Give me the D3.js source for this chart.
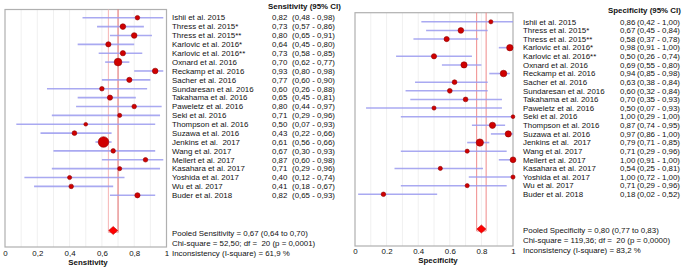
<!DOCTYPE html>
<html lang="en">
<head>
  <meta charset="UTF-8">
  <title>Forest plots</title>
  <script src="https://d3js.org/d3.v7.min.js"></script>
  <style>
  body { margin: 0; background: #fff; }
  text { font-family: "Liberation Sans", Arial, sans-serif; font-size: 7.9px; fill: #111; white-space: pre; }
  .hdr, .ttl { font-weight: bold; }
  .box { fill: none; stroke: #b0b0b0; stroke-width: 1.2px; }
  .grid { stroke: #f0f0f0; stroke-width: 1px; }
  .ci { stroke: #9a9aee; stroke-width: 1.6px; stroke-opacity: 0.85; }
  .dot { fill: #d00000; stroke: #900000; stroke-width: 0.6px; }
  .diamond { fill: #ff0000; stroke: #c00000; stroke-width: 0.6px; }
  .axis path, .axis line { display: none; }
  </style>
</head>
<body>
  <svg width="685" height="268"></svg>
  <script>
  var studies = ["Ishii et al. 2015", "Thress et al. 2015*", "Thress et al. 2015**", "Karlovic et al. 2016*",
    "Karlovic et al. 2016**", "Oxnard et al. 2016", "Reckamp et al. 2016", "Sacher et al. 2016",
    "Sundaresan et al. 2016", "Takahama et al. 2016", "Paweletz et al. 2016", "Seki et al. 2016",
    "Thompson et al. 2016", "Suzawa et al. 2016", "Jenkins et al.  2017", "Wang et al. 2017",
    "Mellert et al. 2017", "Kasahara et al. 2017", "Yoshida et al. 2017", "Wu et al. 2017", "Buder et al. 2018"];

  var sens   = [0.82, 0.73, 0.80, 0.64, 0.73, 0.70, 0.93, 0.77, 0.60, 0.65, 0.80, 0.71, 0.50, 0.43, 0.61, 0.67, 0.87, 0.71, 0.40, 0.41, 0.82];
  var sensLo = [0.48, 0.57, 0.65, 0.45, 0.58, 0.62, 0.80, 0.60, 0.26, 0.45, 0.44, 0.29, 0.07, 0.22, 0.56, 0.30, 0.60, 0.29, 0.12, 0.18, 0.65];
  var sensHi = [0.98, 0.86, 0.91, 0.80, 0.85, 0.77, 0.98, 0.90, 0.88, 0.81, 0.97, 0.96, 0.93, 0.66, 0.66, 0.93, 0.98, 0.96, 0.74, 0.67, 0.93];
  var sensWeight = [4.8, 7.3, 7.3, 6.3, 6.3, 13.7, 7.3, 6.3, 4.8, 6.3, 4.8, 4, 3.2, 5.3, 26, 4.8, 4.8, 4, 4, 4.8, 6.3];

  var spec   = [0.86, 0.67, 0.58, 0.98, 0.50, 0.69, 0.94, 0.63, 0.60, 0.70, 0.50, 1.00, 0.87, 0.97, 0.79, 0.71, 1.00, 0.54, 1.00, 0.71, 0.18];
  var specLo = [0.42, 0.45, 0.37, 0.91, 0.26, 0.55, 0.85, 0.38, 0.32, 0.35, 0.07, 0.29, 0.74, 0.86, 0.71, 0.29, 0.91, 0.25, 0.72, 0.29, 0.02];
  var specHi = [1.00, 0.84, 0.78, 1.00, 0.74, 0.80, 0.98, 0.84, 0.84, 0.93, 0.93, 1.00, 0.95, 1.00, 0.85, 0.96, 1.00, 0.81, 1.00, 0.96, 0.52];
  var specWeight = [4, 7.3, 6.3, 9.5, 6.3, 9, 10, 5.3, 5.3, 5.3, 4, 3.2, 9, 9, 12.5, 4, 7.8, 4, 4, 4, 4.8];

  var sensPooled = [0.67, 0.64, 0.70];
  var specPooled = [0.80, 0.77, 0.83];
  var sensStats = ["Pooled Sensitivity = 0,67 (0,64 to 0,70)", "Chi-square = 52,50; df =  20 (p = 0,0001)", "Inconsistency (I-square) = 61,9 %"];
  var specStats = ["Pooled Specificity = 0,80 (0,77 to 0,83)", "Chi-square = 119,36; df =  20 (p = 0,0000)", "Inconsistency (I-square) = 83,2 %"];
  var tickVals = [0, 0.2, 0.4, 0.6, 0.8, 1];
  var sensTickLabels = ["0", "0,2", "0,4", "0,6", "0,8", "1"];
  var specTickLabels = ["0", "0.2", "0.4", "0.6", "0.8", "1"];
  var gridVals = [0.1, 0.2, 0.3, 0.4, 0.5, 0.6, 0.7, 0.8, 0.9];

  var svg = d3.select("svg");
  var rScale = d3.scaleSqrt().domain([0, 26]).range([0, 5.3]);
  function fmt(v) { return v.toFixed(2).replace(".", ","); }
  // keep double spaces visible
  function keep(s) { return s.replace(/  /g, " \u00a0"); }

  function panel(o) {
    var x = d3.scaleLinear().domain([0, 1]).range([o.x0, o.x1]);
    var y = d3.scaleLinear().domain([0, studies.length - 1]).range([o.yFirst, o.yLast]);
    var g = svg.append("g");

    g.selectAll(".grid").data(gridVals).enter().append("line")
      .attr("class", "grid")
      .attr("x1", d => x(d)).attr("x2", d => x(d))
      .attr("y1", o.top).attr("y2", o.bottom);

    g.append("rect").attr("class", "box")
      .attr("x", o.x0).attr("y", o.top)
      .attr("width", o.x1 - o.x0).attr("height", o.bottom - o.top);

    // pooled CI band lines
    g.append("line").attr("x1", x(o.pooled[1])).attr("x2", x(o.pooled[1]))
      .attr("y1", o.top).attr("y2", o.yPooled + 2)
      .attr("stroke", o.loColor).attr("stroke-width", 1);
    g.append("line").attr("x1", x(o.pooled[2])).attr("x2", x(o.pooled[2]))
      .attr("y1", o.top).attr("y2", o.yPooled + 2)
      .attr("stroke", o.hiColor).attr("stroke-width", 1);
    g.append("line").attr("x1", x(o.pooled[1])).attr("x2", x(o.pooled[2]))
      .attr("y1", o.yPooled + 2).attr("y2", o.yPooled + 2)
      .attr("stroke", o.loColor).attr("stroke-width", 1);

    g.selectAll(".ci").data(studies).enter().append("line")
      .attr("class", "ci")
      .attr("x1", (d, i) => x(o.lo[i])).attr("x2", (d, i) => x(o.hi[i]))
      .attr("y1", (d, i) => y(i)).attr("y2", (d, i) => y(i));

    g.selectAll(".dot").data(studies).enter().append("circle")
      .attr("class", "dot")
      .attr("cx", (d, i) => x(o.est[i])).attr("cy", (d, i) => y(i))
      .attr("r", (d, i) => rScale(o.w[i]));

    var cx = x(o.pooled[0]), cy = o.yPooled;
    g.append("path").attr("class", "diamond")
      .attr("d", "M" + (cx - 4.5) + "," + cy + "L" + cx + "," + (cy - 4) + "L" + (cx + 4.5) + "," + cy + "L" + cx + "," + (cy + 4) + "Z");

    var axis = d3.axisBottom(x).tickValues(tickVals).tickSize(0).tickPadding(0)
      .tickFormat((d, i) => o.ticks[i]);
    g.append("g").attr("class", "axis").attr("transform", "translate(0," + o.tickY + ")").call(axis)
      .selectAll("text").style("font-size", "7.9px").style("font-family", "'Liberation Sans', Arial, sans-serif").attr("fill", "#111");

    g.append("text").attr("class", "ttl").attr("x", o.titleX).attr("y", o.titleY)
      .attr("text-anchor", "middle").text(o.title);

    g.append("text").attr("class", "hdr").attr("x", o.hdrX).attr("y", o.hdrY).text(o.header);

    var rows = g.selectAll(".row").data(studies).enter().append("g")
      .attr("transform", (d, i) => "translate(0," + y(i) + ")");
    rows.append("text").attr("x", o.nameX).attr("dy", "0.35em").text(d => keep(d));
    rows.append("text").attr("x", o.valX).attr("dy", "0.35em").text((d, i) => fmt(o.est[i]));
    rows.append("text").attr("x", o.ciX).attr("dy", "0.35em")
      .text((d, i) => "(" + fmt(o.lo[i]) + " - " + fmt(o.hi[i]) + ")");

    g.selectAll(".stat").data(o.stats).enter().append("text")
      .attr("x", o.nameX).attr("y", (d, i) => o.statY + i * 10).attr("dy", "0.35em")
      .text(d => keep(d));
  }

  panel({
    x0: 5, x1: 166.5, top: 9.5, bottom: 247, yFirst: 17.7, yLast: 195.3, yPooled: 230.5,
    est: sens, lo: sensLo, hi: sensHi, w: sensWeight, pooled: sensPooled,
    loColor: "#f6b4b4", hiColor: "#e66a6a",
    ticks: sensTickLabels, tickY: 250, title: "Sensitivity", titleX: 88, titleY: 265,
    header: "Sensitivity (95% CI)", hdrX: 268, hdrY: 9,
    nameX: 172, valX: 272, ciX: 292, stats: sensStats, statY: 233
  });

  panel({
    x0: 355, x1: 513, top: 12.7, bottom: 246, yFirst: 21.8, yLast: 194.3, yPooled: 229,
    est: spec, lo: specLo, hi: specHi, w: specWeight, pooled: specPooled,
    loColor: "#f08a8a", hiColor: "#f08a8a",
    ticks: specTickLabels, tickY: 248.5, title: "Specificity", titleX: 438, titleY: 263,
    header: "Specificity (95% CI)", hdrX: 608, hdrY: 13,
    nameX: 523, valX: 620, ciX: 637, stats: specStats, statY: 230
  });
  </script>
</body>
</html>
